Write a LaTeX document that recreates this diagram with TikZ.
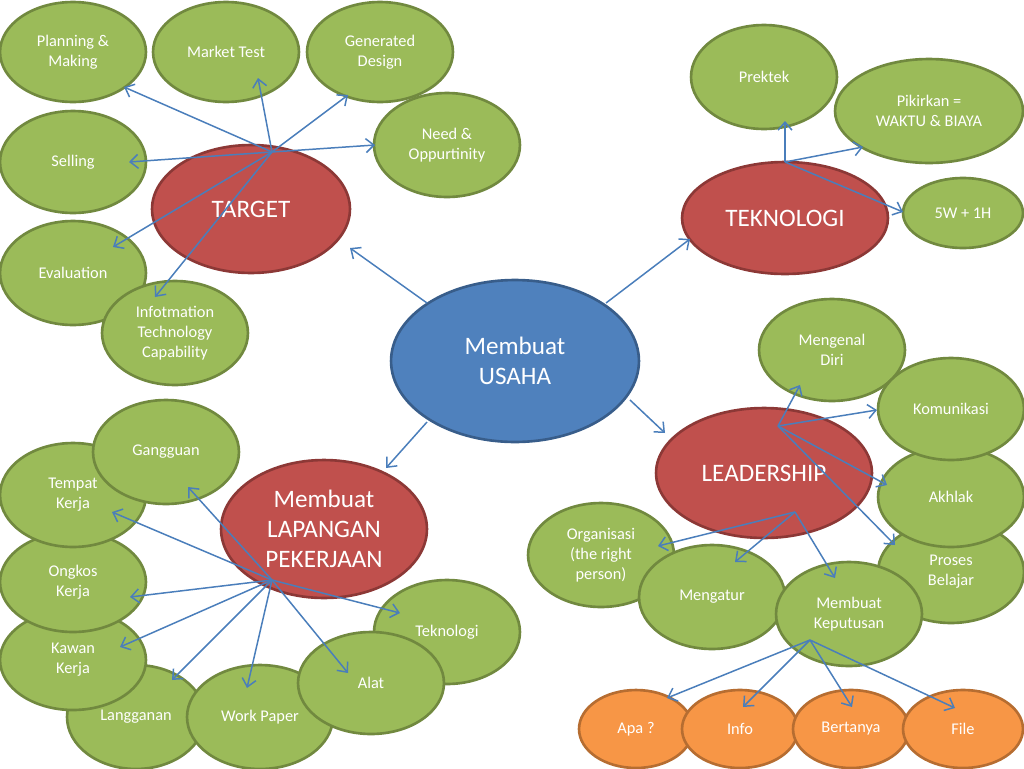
\documentclass[tikz,border=0pt]{standalone}
\usepackage{fontspec}
\setmainfont{Carlito}
\usetikzlibrary{shapes.geometric,arrows.meta}
\definecolor{grF}{RGB}{155,187,89}
\definecolor{grB}{RGB}{113,137,63}
\definecolor{rdF}{RGB}{192,80,77}
\definecolor{rdB}{RGB}{140,56,54}
\definecolor{blF}{RGB}{79,129,189}
\definecolor{blB}{RGB}{56,93,138}
\definecolor{orF}{RGB}{247,150,70}
\definecolor{orB}{RGB}{182,109,49}
\definecolor{arC}{RGB}{74,126,187}
\begin{document}
\begin{tikzpicture}[x=0.02cm,y=-0.02cm,
  bub/.style={ellipse, line width=1.5pt, text=white, align=center, inner sep=0pt},
  leafg/.style={bub, fill=grF, draw=grB, font=\fontsize{9.3}{11.4}\selectfont},
  leafo/.style={bub, fill=orF, draw=orB, font=\fontsize{9.3}{11.4}\selectfont},
  hubr/.style={bub, fill=rdF, draw=rdB, font=\fontsize{14.3}{17.1}\selectfont},
  rootb/.style={bub, fill=blF, draw=blB, font=\fontsize{14.3}{17.1}\selectfont},
  sz/.style 2 args={minimum width=#1*0.04cm, minimum height=#2*0.04cm},
  arr/.style={draw=arC, line width=0.85pt, -{Straight Barb[length=1.6mm,width=2.8mm]}}]
\useasboundingbox (0,0) rectangle (1024,768);

% ---------- TARGET group ----------
\node[leafg,sz={73}{50}] (plan) at (73,52) {Planning \&\\Making};
\node[leafg,sz={73}{50}] (mkt) at (226,52) {Market Test};
\node[leafg,sz={73}{50}] (gen) at (380,52) {Generated\\Design};
\node[leafg,sz={73}{52}] (need) at (447,145) {Need \&\\Oppurtinity};
\node[leafg,sz={73}{51}] (sell) at (73,162) {Selling};
\node[leafg,sz={73}{52}] (eval) at (73,273) {Evaluation};
\node[leafg,sz={73}{52}] (itc) at (175,333) {Infotmation\\Technology\\Capability};
\node[hubr,sz={99}{64}] (target) at (251,209) {TARGET};

% ---------- TEKNOLOGI group ----------
\node[leafg,sz={73}{52}] (prak) at (764,77) {Prektek};
\node[leafg,sz={94}{52}] (pik) at (929,111) {Pikirkan =\\WAKTU \& BIAYA};
\node[hubr,sz={103}{56}] (tekh) at (785,218) {TEKNOLOGI};
\node[leafg,sz={60}{35}] (w5) at (963,213) {5W + 1H};

% ---------- root ----------
\node[rootb,sz={124}{81}] (usaha) at (515,361) {Membuat\\USAHA};

% ---------- LEADERSHIP group ----------
\node[leafg,sz={73}{51}] (proses) at (951,572) {Proses\\Belajar};
\node[leafg,sz={73}{50}] (akh) at (951,497) {Akhlak};
\node[leafg,sz={73}{51}] (diri) at (832,350) {Mengenal\\Diri};
\node[leafg,sz={73}{51}] (kom) at (951,409) {Komunikasi};
\node[hubr,sz={108}{65}] (lead) at (764,473) {LEADERSHIP};
\node[leafg,sz={73}{52}] (org) at (601,555) {Organisasi\\(the right\\person)};
\node[leafg,sz={73}{52}] (atur) at (712,597) {Mengatur};
\node[leafg,sz={73}{52}] (kep) at (849,614) {Membuat\\Keputusan};
\node[leafo,sz={57}{39}] (apa) at (636,729) {Apa ?};
\node[leafo,sz={58}{39}] (inf) at (740,729) {Info};
\node[leafo,sz={58}{39}] (tanya) at (851,729) {Bertanya};
\node[leafo,sz={60}{39}] (file) at (963,729) {File};

% ---------- LAPANGAN group ----------
\node[leafg,sz={69}{52}] (lang) at (136,717) {Langganan};
\node[leafg,sz={73}{50}] (kawan) at (73,660) {Kawan\\Kerja};
\node[leafg,sz={73}{50}] (ongk) at (73,582) {Ongkos\\Kerja};
\node[leafg,sz={73}{52}] (temp) at (73,495) {Tempat\\Kerja};
\node[leafg,sz={73}{52}] (gang) at (166,452) {Gangguan};
\node[leafg,sz={73}{52}] (wp) at (260,717) {Work Paper};
\node[leafg,sz={73}{52}] (tek2) at (447,632) {Teknologi};
\node[leafg,sz={73}{51}] (alat) at (371,683) {Alat};
\node[hubr,sz={103}{69}] (lap) at (324,529) {Membuat\\LAPANGAN\\PEKERJAAN};

% ---------- connector end points ----------
\coordinate (usT) at (427,303);  \coordinate (tgIn) at (350,248);
\coordinate (usK) at (606,303);  \coordinate (tkIn) at (690,239);
\coordinate (usL) at (630,400);  \coordinate (ldIn) at (665,433);
\coordinate (usP) at (427,422);  \coordinate (lpIn) at (386,468);

\coordinate (tgO) at (272,152);
\coordinate (planT) at (124,87);
\coordinate (mktT) at (258,78);
\coordinate (genT) at (348,95);
\coordinate (needT) at (375,145);
\coordinate (sellT) at (129,162);
\coordinate (evalT) at (113,247);
\coordinate (itcT) at (155,297);

\coordinate (tkO) at (785,162);
\coordinate (prakT) at (785,121);
\coordinate (pikT) at (863,147);
\coordinate (w5T) at (903,212);

\coordinate (ldA) at (778,426);
\coordinate (diriT) at (800,385);
\coordinate (komT) at (877,410);
\coordinate (akhT) at (887,485);
\coordinate (prosT) at (895,545);
\coordinate (ldB) at (795,512);
\coordinate (orgT) at (658,546);
\coordinate (aturT) at (735,562);
\coordinate (kepT) at (835,578);
\coordinate (kpO) at (810,640);
\coordinate (apaT) at (667,698);
\coordinate (infT) at (743,707);
\coordinate (tanyaT) at (852,707);
\coordinate (fileT) at (955,708);

\coordinate (lpO) at (272,580);
\coordinate (gangT) at (188,487);
\coordinate (tempT) at (112,512);
\coordinate (ongkT) at (130,597);
\coordinate (kawanT) at (120,647);
\coordinate (langT) at (172,680);
\coordinate (wpT) at (247,688);
\coordinate (alatT) at (348,673);
\coordinate (tek2T) at (400,613);

% ---------- connectors ----------
\draw[arr] (usT) -- (tgIn);
\draw[arr] (usK) -- (tkIn);
\draw[arr] (usL) -- (ldIn);
\draw[arr] (usP) -- (lpIn);

\foreach \t in {planT,mktT,genT,needT,sellT,evalT,itcT}
  \draw[arr] (tgO) -- (\t);
\foreach \t in {prakT,pikT,w5T}
  \draw[arr] (tkO) -- (\t);
\foreach \t in {diriT,komT,akhT,prosT}
  \draw[arr] (ldA) -- (\t);
\foreach \t in {orgT,aturT,kepT}
  \draw[arr] (ldB) -- (\t);
\foreach \t in {apaT,infT,tanyaT,fileT}
  \draw[arr] (kpO) -- (\t);
\foreach \t in {gangT,tempT,ongkT,kawanT,langT,wpT,alatT,tek2T}
  \draw[arr] (lpO) -- (\t);
\end{tikzpicture}
\end{document}
